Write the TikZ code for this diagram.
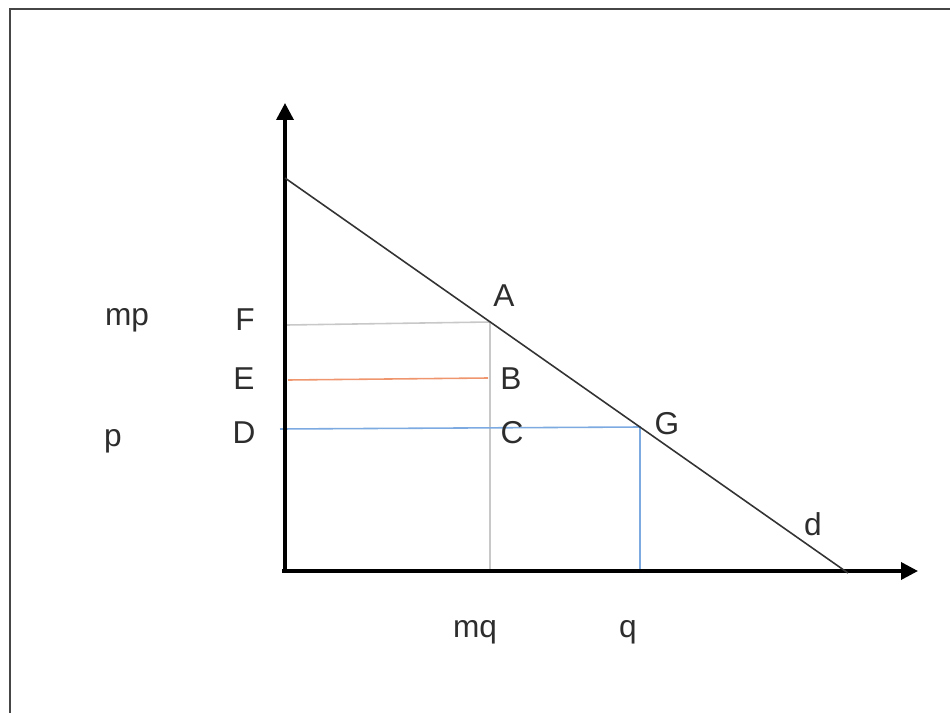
\documentclass[tikz,border=0pt]{standalone}
\usepackage{fontspec}
\setmainfont{Liberation Sans}
\usepackage{tikz}
\usetikzlibrary{arrows.meta,calc}
\usepackage{xcolor}
\definecolor{framegrey}{RGB}{70,70,70}
\definecolor{guidegrey}{RGB}{200,200,200}
\definecolor{costorange}{RGB}{240,150,110}
\definecolor{priceblue}{RGB}{125,170,225}
\definecolor{labelink}{RGB}{45,45,45}

\begin{document}
\begin{tikzpicture}[x=0.02cm, y=-0.02cm,
    axis/.style={line width=2pt, -{Triangle[length=0.34cm,width=0.34cm]}},
    lab/.style={labelink, font=\fontsize{18}{22}\selectfont, inner sep=0pt}]
    \useasboundingbox (0,0) rectangle (950,713);
    % frame (only top and left edges show)
    \draw[framegrey, line width=1.5pt] (950,9) -- (10,9) -- (10,713);
    % points
    \coordinate (O) at (285,571);
    \coordinate (Ytop) at (285,103);
    \coordinate (Xend) at (918,571);
    \coordinate (dTop) at (285,178);
    \coordinate (dEnd) at (848,573);
    \coordinate (A) at (490,322);
    \coordinate (G) at (640,427);
    \coordinate (Fp) at (287,325);
    \coordinate (Ep) at (288,380);
    \coordinate (Bp) at (488,378);
    \coordinate (Dp) at (280,429);
    \coordinate (Cq) at (490,571);
    \coordinate (Gq) at (640,571);
    % guide lines
    \draw[guidegrey, line width=0.9pt] (Fp) -- (A) -- (Cq);
    \draw[costorange, line width=0.9pt] (Ep) -- (Bp);
    \draw[priceblue, line width=0.9pt] (Dp) -- (G) -- (Gq);
    % axes and demand
    \draw[axis] ($(O)+(0,1)$) -- (Ytop);
    \draw[axis] (282,571) -- (Xend);
    \draw[black!80, line width=0.9pt] (dTop) -- (dEnd);
    % labels
    \node[lab] (mp) at (127,320) {mp};
    \node[lab] (p) at (113,441) {p};
    \node[lab] (F) at (245,320) {F};
    \node[lab] (E) at (244,379) {E};
    \node[lab] (D) at (244,433) {D};
    \node[lab] (Alab) at (504,296) {A};
    \node[lab] (B) at (511,379) {B};
    \node[lab] (C) at (512,433) {C};
    \node[lab] (Glab) at (667,424) {G};
    \node[lab] (d) at (813,524) {d};
    \node[lab] (mq) at (475,632) {mq};
    \node[lab] (q) at (628,632) {q};
\end{tikzpicture}
\end{document}
